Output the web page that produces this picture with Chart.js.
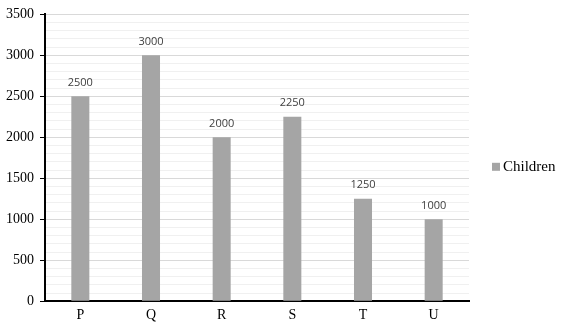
<!DOCTYPE html>
<html><head><meta charset="utf-8">
<script src="https://cdn.jsdelivr.net/npm/chart.js@4/dist/chart.umd.min.js"></script>
<style>html,body{margin:0;padding:0;background:#fff}#wrap{width:562px;height:330px}</style>
</head><body><div id="wrap"><canvas id="c" width="562" height="330"></canvas></div>
<script>
const categories = ['P','Q','R','S','T','U'];
const children = [2500,3000,2000,2250,1250,1000];
const seriesName = 'Children';
const barColor = '#A5A5A5';

const labelPlugin = {
  id:'labels',
  afterDatasetsDraw(chart){
    const ctx = chart.ctx;
    const meta = chart.getDatasetMeta(0);
    ctx.save();
    ctx.font = '11px "Open Sans", sans-serif';
    ctx.fillStyle = '#404040';
    ctx.textAlign = 'center';
    ctx.textBaseline = 'bottom';
    meta.data.forEach((b,i)=>{ ctx.fillText(String(children[i]), b.x, b.y-8); });
    // legend
    const a = chart.chartArea;
    const cy = (a.top + a.bottom)/2 + 9;
    ctx.fillStyle = barColor;
    ctx.fillRect(492, cy-4, 8, 8);
    ctx.fillStyle = '#000';
    ctx.font = '15px "Liberation Serif", serif';
    ctx.textAlign = 'left';
    ctx.textBaseline = 'middle';
    ctx.fillText(chart.data.datasets[0].label, 503, cy);
    ctx.restore();
  }
};

new Chart(document.getElementById('c'),{
  type:'bar',
  data:{labels:categories,datasets:[{label:seriesName,data:children,backgroundColor:barColor,categoryPercentage:1,barPercentage:0.255}]},
  options:{
    responsive:false,animation:false,
    layout:{padding:{top:6,right:93,bottom:0,left:0}},
    plugins:{legend:{display:false},tooltip:{enabled:false}},
    scales:{
      x:{grid:{display:false,drawTicks:false},border:{color:'#000',width:2},
         ticks:{color:'#000',font:{family:'"Liberation Serif", serif',size:14},padding:6}},
      y:{min:0,max:3500,
         ticks:{stepSize:100,autoSkip:false,color:'#000',font:{family:'"Liberation Serif", serif',size:14},padding:6,
                callback:(v)=> v%500===0 ? String(v) : ''},
         grid:{color:(c)=> c.tick && c.tick.value%500===0 ? '#d9d9d9' : '#f0f0f0',
               tickColor:(c)=> c.tick && c.tick.value%500===0 ? '#000' : 'rgba(0,0,0,0)',
               tickLength:5,lineWidth:1},
         border:{color:'#000',width:2}}
    }
  },
  plugins:[labelPlugin]
});
</script></body></html>
